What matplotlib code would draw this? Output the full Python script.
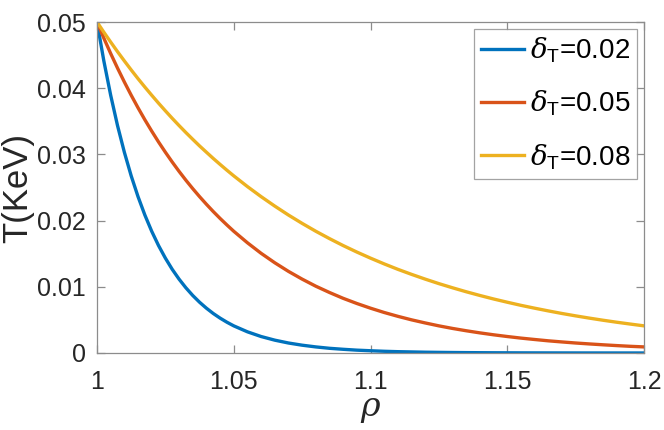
import numpy as np
import matplotlib
matplotlib.use('Agg')
import matplotlib.pyplot as plt

plt.rcParams['font.family'] = ['Liberation Sans', 'DejaVu Sans']
plt.rcParams['mathtext.fontset'] = 'custom'
plt.rcParams['mathtext.rm'] = 'Liberation Sans'
plt.rcParams['mathtext.it'] = 'DejaVu Serif:italic'

# rho sample points (finer near rho=1 where curves drop fast)
rho = [1.0, 1.0025, 1.005, 1.0075, 1.01, 1.0125, 1.015, 1.0175, 1.02, 1.0225,
       1.025, 1.0275, 1.03, 1.0325, 1.035, 1.0375, 1.04, 1.0425, 1.045, 1.0475,
       1.05, 1.055, 1.06, 1.065, 1.07, 1.075, 1.08, 1.085, 1.09, 1.095,
       1.1, 1.105, 1.11, 1.115, 1.12, 1.125, 1.13, 1.135, 1.14, 1.145,
       1.15, 1.155, 1.16, 1.165, 1.17, 1.175, 1.18, 1.185, 1.19, 1.195, 1.2]

T_002 = [0.05, 0.04412, 0.03894, 0.03436, 0.03033, 0.02676, 0.02362, 0.02084, 0.01839, 0.01623,
         0.01433, 0.01264, 0.01116, 0.00985, 0.00869, 0.00767, 0.00677, 0.00597, 0.00527, 0.00465,
         0.00410, 0.00320, 0.00249, 0.00194, 0.00151, 0.00118, 0.00092, 0.00071, 0.00056, 0.00043,
         0.00034, 0.00026, 0.00020, 0.00016, 0.00012, 0.000095, 0.000074, 0.000058, 0.000045, 0.000035,
         0.000028, 0.000021, 0.000017, 0.000013, 0.000010, 0.000008, 0.000006, 0.000005, 0.000004, 0.000003, 0.000002]

T_005 = [0.05, 0.04756, 0.04524, 0.04304, 0.04094, 0.03894, 0.03704, 0.03523, 0.03352, 0.03188,
         0.03033, 0.02885, 0.02744, 0.02610, 0.02483, 0.02362, 0.02247, 0.02137, 0.02033, 0.01934,
         0.01839, 0.01665, 0.01506, 0.01363, 0.01233, 0.01116, 0.01009, 0.00914, 0.00826, 0.00748,
         0.00677, 0.00612, 0.00554, 0.00501, 0.00454, 0.00410, 0.00371, 0.00336, 0.00304, 0.00275,
         0.00249, 0.00225, 0.00204, 0.00184, 0.00167, 0.00151, 0.00137, 0.00124, 0.00112, 0.00101, 0.00092]

T_008 = [0.05, 0.04846, 0.04697, 0.04552, 0.04412, 0.04276, 0.04144, 0.04017, 0.03894, 0.03774,
         0.03658, 0.03545, 0.03436, 0.03330, 0.03228, 0.03128, 0.03033, 0.02939, 0.02849, 0.02761,
         0.02676, 0.02514, 0.02362, 0.02219, 0.02084, 0.01958, 0.01839, 0.01728, 0.01623, 0.01525,
         0.01433, 0.01346, 0.01264, 0.01188, 0.01116, 0.01048, 0.00985, 0.00925, 0.00869, 0.00816,
         0.00767, 0.00720, 0.00677, 0.00636, 0.00597, 0.00561, 0.00527, 0.00495, 0.00465, 0.00437, 0.00410]

labels = [r'$\delta_{\mathrm{T}}$=0.02', r'$\delta_{\mathrm{T}}$=0.05', r'$\delta_{\mathrm{T}}$=0.08']
colors = ['#0072BD', '#D95319', '#EDB120']

fig = plt.figure(figsize=(6.64, 4.30), dpi=100)
ax = fig.add_axes([97/664, 1 - 353/430, (644-97)/664, (353-22)/430])

for T, lab, c in zip([T_002, T_005, T_008], labels, colors):
    ax.plot(rho, T, color=c, lw=2.4, label=lab)

ax.set_xlim(1, 1.2)
ax.set_ylim(0, 0.05)
ax.set_xticks([1, 1.05, 1.1, 1.15, 1.2])
ax.set_xticklabels(['1', '1.05', '1.1', '1.15', '1.2'])
ax.set_yticks([0, 0.01, 0.02, 0.03, 0.04, 0.05])
ax.set_yticklabels(['0', '0.01', '0.02', '0.03', '0.04', '0.05'])

for s in ax.spines.values():
    s.set_color('#8c8c8c')
    s.set_linewidth(0.9)
ax.tick_params(direction='in', length=6, width=0.9, color='#8c8c8c',
               labelcolor='#262626', labelsize=18, top=True, right=True)
ax.tick_params(axis='x', pad=12)
ax.tick_params(axis='y', pad=8)

ax.set_xlabel(r'$\rho$', fontsize=24, color='#262626', labelpad=0)
ax.set_ylabel('T(KeV)', fontsize=25, color='#262626', labelpad=2)

leg = ax.legend(loc='upper right', fontsize=20, frameon=True, fancybox=False,
                edgecolor='#8c8c8c', handlelength=1.55, handletextpad=0.2,
                borderaxespad=0.25, labelspacing=0.85, borderpad=0.25)
leg.get_frame().set_linewidth(0.9)

fig.savefig('out.png', dpi=100)
